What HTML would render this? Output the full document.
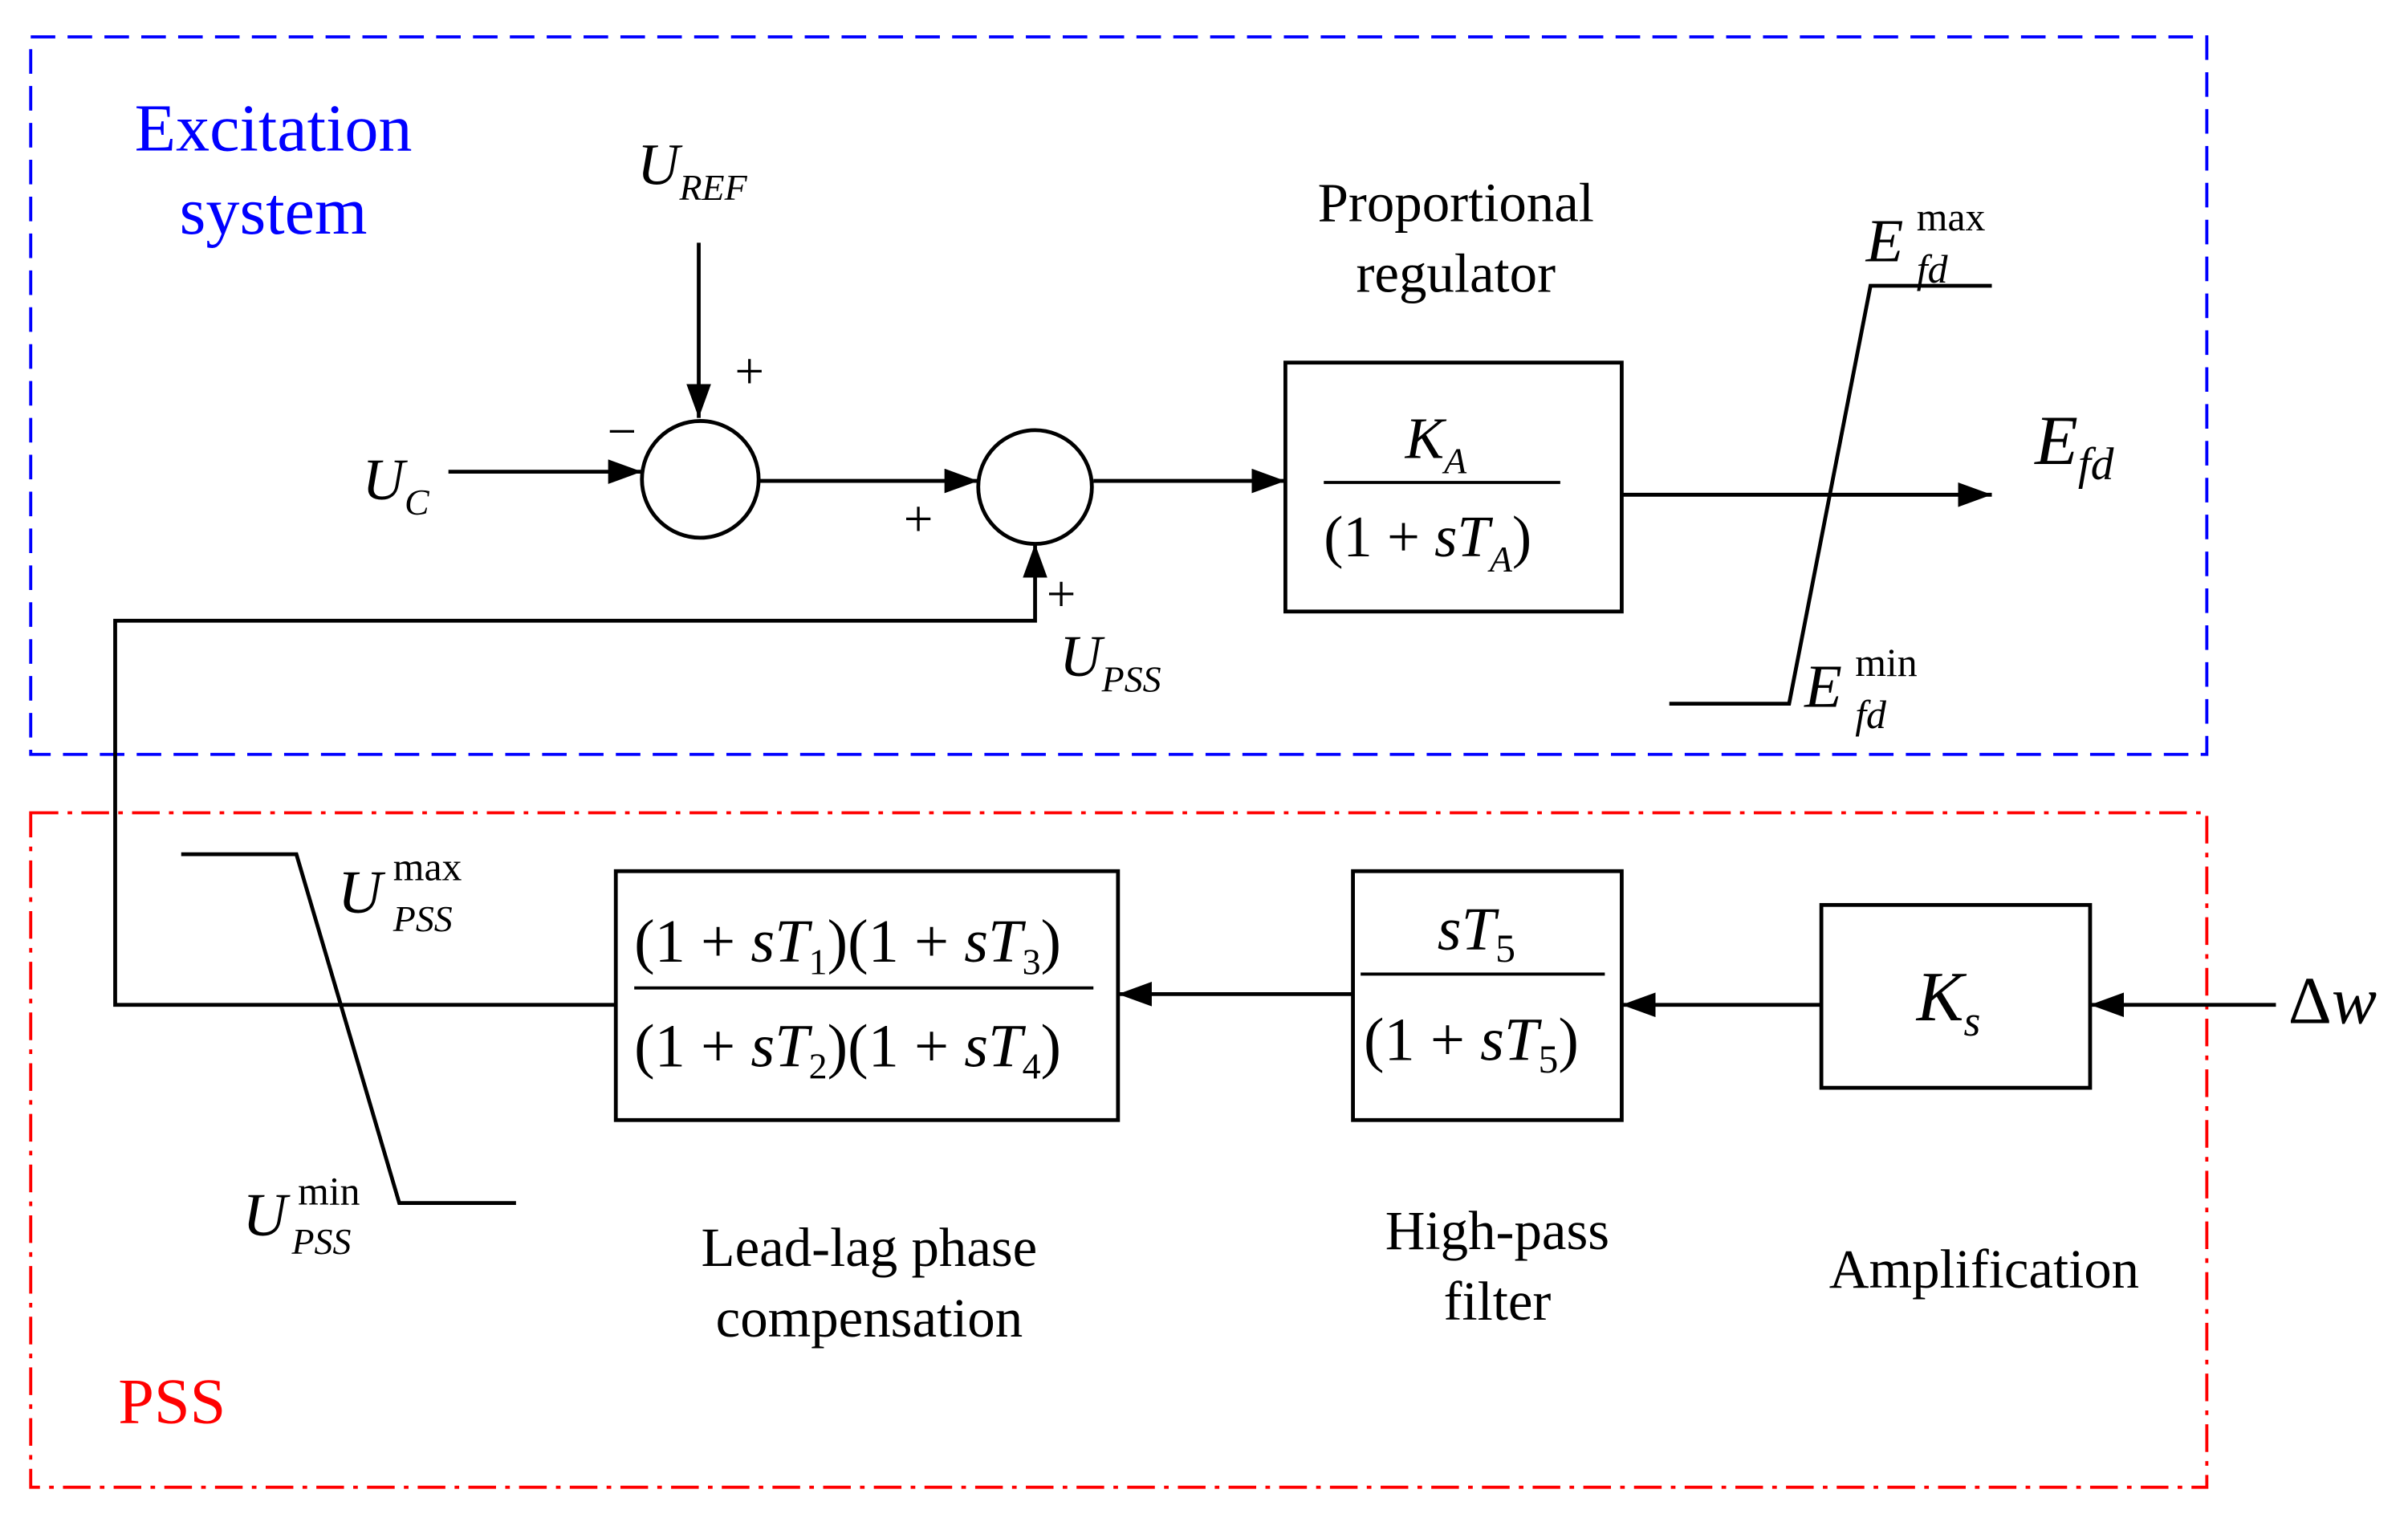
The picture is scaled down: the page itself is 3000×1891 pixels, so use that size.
<!DOCTYPE html>
<html><head><meta charset="utf-8"><style>
html,body{margin:0;padding:0;background:#fff;}
svg{display:block;}
text{font-family:"Liberation Serif",serif;fill:#000;}
.it{font-style:italic;}
</style></head><body>
<svg width="3000" height="1891" viewBox="0 0 1568 988" preserveAspectRatio="none" xmlns="http://www.w3.org/2000/svg">
<defs>
<marker id="b" markerWidth="22" markerHeight="16" refX="22" refY="8" orient="auto" markerUnits="userSpaceOnUse" viewBox="0 0 22 16">
<path d="M0,0 L22,8 L0,16 z" fill="#000"/></marker>
</defs>
<rect x="0" y="0" width="1568" height="988" fill="#fff"/>
<rect x="20" y="24" width="1417" height="467" fill="none" stroke="#0000ff" stroke-width="2" stroke-dasharray="16,8"/>
<rect x="20" y="529" width="1417" height="439" fill="none" stroke="#ff0000" stroke-width="2" stroke-dasharray="18,6,3,6"/>
<text x="178" y="98" font-size="44" text-anchor="middle" style="fill:#0000ff">Excitation</text>
<text x="178" y="152" font-size="44" text-anchor="middle" style="fill:#0000ff">system</text>
<text x="112" y="926" font-size="42" text-anchor="middle" style="fill:#ff0000">PSS</text>

<g stroke="#000" stroke-width="2.5" fill="none">
<line x1="455" y1="158" x2="455" y2="272" marker-end="url(#b)"/>
<circle cx="456" cy="312" r="38"/>
<circle cx="674" cy="317" r="37"/>
<line x1="292" y1="307" x2="418" y2="307" marker-end="url(#b)"/>
<line x1="494" y1="313" x2="637" y2="313" marker-end="url(#b)"/>
<line x1="712" y1="313" x2="837" y2="313" marker-end="url(#b)"/>
<rect x="837" y="236" width="219" height="162"/>
<line x1="862" y1="314" x2="1016" y2="314" stroke-width="2"/>
<line x1="1056" y1="322" x2="1297" y2="322" marker-end="url(#b)"/>
<polyline points="1087,458 1165,458 1218,186 1297,186"/>
<polyline points="401,654 75,654 75,404 674,404 674,354" marker-end="url(#b)"/>
<polyline points="118,556 193,556 260,783 336,783"/>
<rect x="401" y="567" width="327" height="162"/>
<line x1="413" y1="643" x2="712" y2="643" stroke-width="2"/>
<line x1="880" y1="647" x2="728" y2="647" marker-end="url(#b)"/>
<rect x="881" y="567" width="175" height="162"/>
<line x1="886" y1="634" x2="1045" y2="634" stroke-width="2"/>
<line x1="1186" y1="654" x2="1056" y2="654" marker-end="url(#b)"/>
<rect x="1186" y="589" width="175" height="119"/>
<line x1="1482" y1="654" x2="1361" y2="654" marker-end="url(#b)"/>
</g>

<text x="415" y="120" font-size="38" class="it">U<tspan font-size="24" dy="10">REF</tspan></text>
<text x="488" y="253" font-size="34" text-anchor="middle">+</text>
<text x="405" y="292" font-size="34" text-anchor="middle">−</text>
<text x="598" y="349" font-size="34" text-anchor="middle">+</text>
<text x="691" y="398" font-size="34" text-anchor="middle">+</text>
<text x="236" y="325" font-size="38" class="it">U<tspan font-size="24" dy="10">C</tspan></text>
<text x="690" y="440" font-size="38" class="it">U<tspan font-size="24" dy="10">PSS</tspan></text>

<text x="948" y="144" font-size="36" text-anchor="middle">Proportional</text>
<text x="948" y="190" font-size="36" text-anchor="middle">regulator</text>
<text x="915" y="298" font-size="38" class="it">K<tspan font-size="24" dy="10">A</tspan></text>
<text x="862" y="362" font-size="38">(1 + <tspan class="it">sT</tspan><tspan font-size="24" dy="10" class="it">A</tspan><tspan dy="-10">)</tspan></text>
<text x="1325" y="302" font-size="46" class="it">E<tspan font-size="30" dy="10">fd</tspan></text>
<text x="1215" y="170" font-size="40" class="it">E</text>
<text x="1248" y="150" font-size="26">max</text>
<text x="1248" y="184" font-size="26" class="it">fd</text>
<text x="1175" y="460" font-size="40" class="it">E</text>
<text x="1208" y="440" font-size="26">min</text>
<text x="1208" y="474" font-size="26" class="it">fd</text>

<text x="220" y="594" font-size="40" class="it">U</text>
<text x="256" y="573" font-size="26">max</text>
<text x="256" y="606" font-size="24" class="it">PSS</text>
<text x="158" y="804" font-size="40" class="it">U</text>
<text x="194" y="784" font-size="26">min</text>
<text x="190" y="816" font-size="24" class="it">PSS</text>

<text x="413" y="626" font-size="40">(1 + <tspan class="it">sT</tspan><tspan font-size="24" dy="8">1</tspan><tspan dy="-8">)(1 + </tspan><tspan class="it">sT</tspan><tspan font-size="24" dy="8">3</tspan><tspan dy="-8">)</tspan></text>
<text x="413" y="694" font-size="40">(1 + <tspan class="it">sT</tspan><tspan font-size="24" dy="8">2</tspan><tspan dy="-8">)(1 + </tspan><tspan class="it">sT</tspan><tspan font-size="24" dy="8">4</tspan><tspan dy="-8">)</tspan></text>
<text x="936" y="618" font-size="40" class="it">sT<tspan font-size="26" dy="8" style="font-style:normal">5</tspan></text>
<text x="888" y="690" font-size="40">(1 + <tspan class="it">sT</tspan><tspan font-size="26" dy="8">5</tspan><tspan dy="-8">)</tspan></text>
<text x="1248" y="664" font-size="46" class="it">K<tspan font-size="28" dy="10">s</tspan></text>
<text x="1490" y="666" font-size="44">Δ<tspan class="it">w</tspan></text>

<text x="566" y="824" font-size="36" text-anchor="middle">Lead-lag phase</text>
<text x="566" y="870" font-size="36" text-anchor="middle">compensation</text>
<text x="975" y="813" font-size="36" text-anchor="middle">High-pass</text>
<text x="975" y="859" font-size="36" text-anchor="middle">filter</text>
<text x="1292" y="838" font-size="36" text-anchor="middle">Amplification</text>
</svg>
</body></html>
